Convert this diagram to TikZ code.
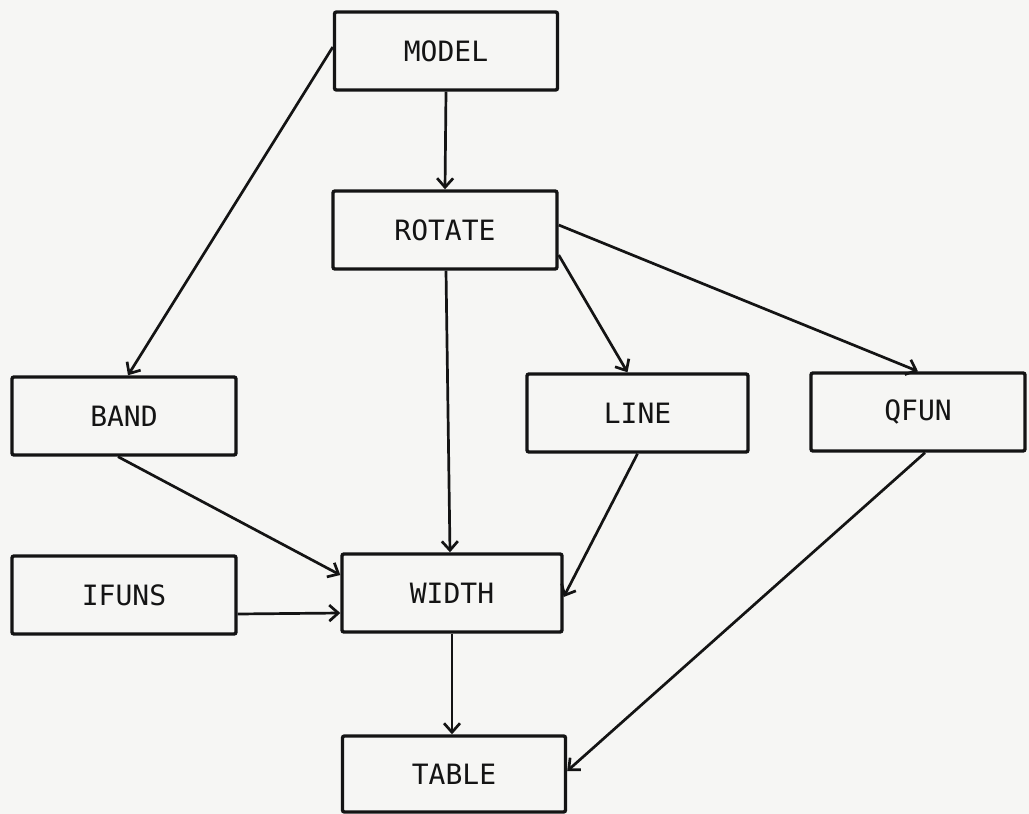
\documentclass[tikz,border=0pt]{standalone}
\usepackage{fontspec}
\setmainfont{DejaVu Sans Mono}
\usetikzlibrary{arrows.meta}
\definecolor{bgc}{RGB}{246,246,244}
\definecolor{ink}{RGB}{20,20,20}
\begin{document}
\begin{tikzpicture}[x=1pt,y=-1pt,
  blk/.style={draw=ink,line width=3.4pt,rounded corners=2pt,fill=none,text=ink,
    font=\fontsize{28}{31}\selectfont,minimum width=#1,minimum height=78pt,inner sep=0pt},
  blk/.default=222pt,
  conn/.style={draw=ink,line width=2.7pt,-{Straight Barb[length=9pt,width=16pt,line width=2.7pt]}}]
\path[fill=bgc] (0,0) rectangle (1029,814);
\useasboundingbox (0,0) rectangle (1029,814);
\node[blk=223pt] (model) at (446,51) {MODEL};
\node[blk=224pt] (rotate) at (445,230) {ROTATE};
\node[blk=224pt] (band) at (124,416) {BAND};
\node[blk=221pt] (line) at (637.5,413) {LINE};
\node[blk=214pt] (qfun) at (918,412) {QFUN};
\node[blk=224pt] (ifuns) at (124,595) {IFUNS};
\node[blk=220pt] (width) at (452,593) {WIDTH};
\node[blk=223pt,minimum height=76pt] (table) at (454,774) {TABLE};
\draw[conn] (model.south) -- (rotate.north);
\draw[conn] ([yshift=4pt]model.west) -- ([xshift=4pt]band.north);
\draw[conn] ([xshift=1pt]rotate.south) -- ([xshift=-2pt]width.north);
\draw[conn] ([yshift=-25pt]rotate.east) -- ([xshift=-10pt]line.north);
\draw[conn] ([yshift=5pt]rotate.east) -- (qfun.north);
\draw[conn] ([xshift=-6pt]band.south) -- ([yshift=18pt]width.west);
\draw[conn] ([yshift=-19pt]ifuns.east) -- ([yshift=-20pt]width.west);
\draw[conn] (line.south) -- ([yshift=-4pt]width.east);
\draw[conn] ([xshift=7pt]qfun.south) -- ([yshift=3pt]table.east);
\draw[conn] (width.south) -- ([xshift=-2pt]table.north);
\end{tikzpicture}
\end{document}
